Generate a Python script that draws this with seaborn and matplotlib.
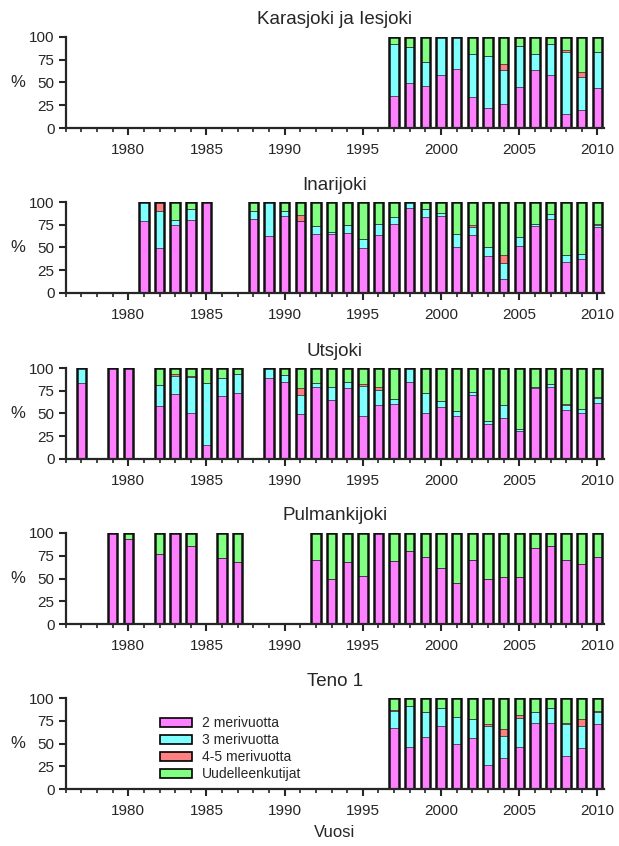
import numpy as np
import matplotlib
matplotlib.use("Agg")
import matplotlib.pyplot as plt
from matplotlib.patches import Patch
from matplotlib.ticker import MultipleLocator
import seaborn as sns

sns.set_style("ticks")
plt.rcParams["font.family"] = ["Liberation Sans", "DejaVu Sans"]

# ---- data: share (%) of spawners by sea-age group ----
series_labels = ["2 merivuotta", "3 merivuotta", "4-5 merivuotta", "Uudelleenkutijat"]
series_colors = ["#FF80FF", "#80FFFF", "#FF8080", "#80FF80"]

kara_years = list(range(1997, 2011))
kara_2mv = [35, 49, 46, 58.5, 65, 34, 22, 26.5, 45, 64, 58.5, 15.5, 19.5, 44]
kara_3mv = [57, 40, 26.5, 41.5, 35, 47, 57.5, 37, 45.5, 17, 34, 68.5, 36.5, 40]
kara_45mv = [0.8, 0, 0, 0, 0, 0, 0, 6.5, 0, 0, 0, 1.5, 6, 0]
kara_uk = [7.2, 11, 27.5, 0, 0, 19, 20.5, 30, 9.5, 19, 7.5, 14.5, 38, 16]

inari_years = [1981, 1982, 1983, 1984, 1985] + list(range(1988, 2011))
inari_2mv = [79, 49, 74.5, 80, 100, 81.5, 62.5, 85, 79, 64.5, 64.5, 66, 49, 63.5,
             76, 93, 84, 85, 50, 63.5, 40.5, 15.5, 51.5, 73.5, 81.5, 34.5, 37.5, 73]
inari_3mv = [21, 41, 6, 12.5, 0, 9, 37.5, 5, 0, 9, 2.5, 8.5, 10, 12,
             7.5, 7, 8, 3, 15, 9.5, 10.5, 17, 10, 2.5, 5, 7, 5, 1.5]
inari_45mv = [0, 10, 0, 0, 0, 0, 0, 0, 7, 0, 0, 0, 0, 0,
              0, 0, 0, 0, 0, 1.5, 0, 9, 0, 0, 0, 0, 0, 1.5]
inari_uk = [0, 0, 19.5, 7.5, 0, 9.5, 0, 10, 14, 26.5, 33, 25.5, 41, 24.5,
            16.5, 0, 8, 12, 35, 25.5, 49, 58.5, 38.5, 24, 13.5, 58.5, 57.5, 24]

utsj_years = [1977, 1979, 1980, 1982, 1983, 1984, 1985, 1986, 1987] + list(range(1989, 2011))
utsj_2mv = [84, 100, 100, 58.5, 71.5, 50.5, 15.5, 69.5, 73, 88.5, 84.5, 49.5, 79, 64.5,
            77.5, 47.5, 59.5, 60.5, 85, 50.5, 57.5, 47, 70.5, 38.5, 45, 30.5, 77.5, 79,
            53.5, 50.5, 62]
utsj_3mv = [16, 0, 0, 23, 20, 39.5, 67.5, 20, 20.5, 11.5, 7.5, 21, 5, 14.5,
            7, 32.5, 16, 5.5, 15, 22, 6, 5.5, 3, 3, 14.5, 3, 2, 3.5,
            6, 4.5, 5]
utsj_45mv = [0, 0, 0, 0, 1.5, 1.5, 0, 0, 0, 0, 0, 7, 0, 0,
             0, 2.5, 4, 0, 0, 0, 0, 0, 0, 0, 0, 0, 0, 0,
             0.5, 0, 1]
utsj_uk = [0, 0, 0, 18.5, 7, 8.5, 17, 10.5, 6.5, 0, 8, 22.5, 16, 21,
           15.5, 17.5, 20.5, 34, 0, 27.5, 36.5, 47.5, 26.5, 58.5, 40.5, 66.5, 20.5, 17.5,
           40, 45, 32]

pulm_years = [1979, 1980, 1982, 1983, 1984, 1986, 1987] + list(range(1992, 2011))
pulm_2mv = [100, 93, 76.5, 100, 85.5, 72, 68.5, 70.5, 49.5, 68.5, 53, 100, 69.5,
            80.5, 74, 62, 45, 70.5, 49.5, 52, 52, 83, 85.5, 70.5, 65.5, 74]
pulm_3mv = [0] * 26
pulm_45mv = [0] * 26
pulm_uk = [0, 7, 23.5, 0, 14.5, 28, 31.5, 29.5, 50.5, 31.5, 47, 0, 30.5,
           19.5, 26, 38, 55, 29.5, 50.5, 48, 48, 17, 14.5, 29.5, 34.5, 26]

teno_years = list(range(1997, 2011))
teno_2mv = [66.5, 46, 57, 69, 50, 55.5, 26, 34, 46.5, 72, 72.5, 36, 45, 71.5]
teno_3mv = [19.5, 45, 28, 20, 29.5, 21.5, 43.5, 24.5, 32, 13, 17, 35.5, 24.5, 13]
teno_45mv = [1, 0, 0, 0.5, 0, 0, 2, 7.5, 2.5, 0, 0, 1, 7.5, 1]
teno_uk = [13, 9, 15, 10.5, 20.5, 23, 28.5, 34, 19, 15, 10.5, 27.5, 23, 14.5]

panels = [
    ("Karasjoki ja Iesjoki", kara_years, [kara_2mv, kara_3mv, kara_45mv, kara_uk]),
    ("Inarijoki", inari_years, [inari_2mv, inari_3mv, inari_45mv, inari_uk]),
    ("Utsjoki", utsj_years, [utsj_2mv, utsj_3mv, utsj_45mv, utsj_uk]),
    ("Pulmankijoki", pulm_years, [pulm_2mv, pulm_3mv, pulm_45mv, pulm_uk]),
    ("Teno 1", teno_years, [teno_2mv, teno_3mv, teno_45mv, teno_uk]),
]

fig = plt.figure(figsize=(6.19, 8.46), dpi=100)
W, H = 619, 846
left_px, right_px = 65.7, 604
axis_top_px = [37, 202, 368, 533, 698]
axis_h_px = 91

for (title, years, parts), top_px in zip(panels, axis_top_px):
    ax = fig.add_axes([left_px / W, 1 - (top_px + axis_h_px) / H,
                       (right_px - left_px) / W, axis_h_px / H])
    yrs = np.asarray(years, dtype=float)
    stack = np.cumsum(np.array(parts, dtype=float), axis=0)
    # draw cumulative layers from the top segment downwards
    for k in range(3, -1, -1):
        sns.barplot(x=yrs, y=stack[k], native_scale=True, color=series_colors[k],
                    saturation=1, width=0.6, errorbar=None, edgecolor="#222222",
                    linewidth=0.5, ax=ax)
    # bar outlines
    sns.barplot(x=yrs, y=stack[3], native_scale=True, color="#111111", fill=False,
                width=0.6, errorbar=None, linewidth=1.8, ax=ax)

    ax.set_xlim(1976, 2010.42)
    ax.set_ylim(0, 100)
    ax.set_yticks([0, 25, 50, 75, 100])
    ax.set_xticks([1980, 1985, 1990, 1995, 2000, 2005, 2010])
    ax.xaxis.set_minor_locator(MultipleLocator(1))
    ax.tick_params(axis="both", which="major", direction="out", length=5, width=1.5,
                   labelsize=11, pad=3)
    ax.tick_params(axis="x", which="minor", direction="out", length=3, width=1.2)
    ax.tick_params(axis="x", which="major", pad=6)
    for side in ("top", "right"):
        ax.spines[side].set_visible(False)
    for side in ("left", "bottom"):
        ax.spines[side].set_linewidth(1.6)
    ax.set_xlabel("")
    ax.set_ylabel("")
    ax.set_title(title, fontsize=13.5, pad=9)
    fig.text(18 / W, 1 - (top_px + axis_h_px / 2) / H, "%", fontsize=12,
             ha="center", va="center")
    last_ax = ax

handles = [Patch(facecolor=c, edgecolor="black", linewidth=1.2) for c in series_colors]
last_ax.legend(handles, series_labels, loc="upper left", bbox_to_anchor=(0.165, 0.86),
               frameon=False, fontsize=10, handlelength=2.3, handleheight=0.6,
               labelspacing=0.22, handletextpad=0.7, borderaxespad=0)

fig.text((left_px + right_px) / 2 / W, 1 - 832 / H, "Vuosi", fontsize=12,
         ha="center", va="center")

fig.savefig("out.png", dpi=100)
